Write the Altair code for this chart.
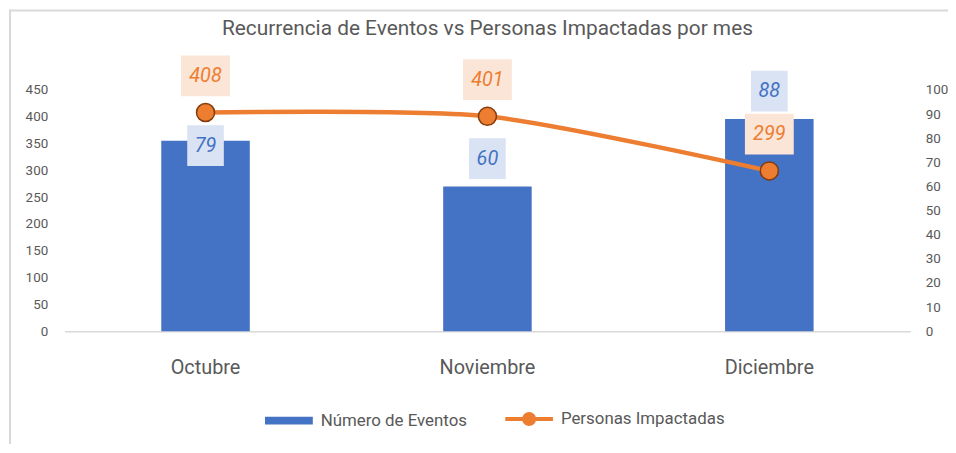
import altair as alt
import pandas as pd

# ---- data ----
meses = ["Octubre", "Noviembre", "Diciembre"]
eventos = [79, 60, 88]
personas = [408, 401, 299]
series = ["Número de Eventos", "Personas Impactadas"]
ticks_left = [0, 50, 100, 150, 200, 250, 300, 350, 400, 450]
ticks_right = [0, 10, 20, 30, 40, 50, 60, 70, 80, 90, 100]
titulo = "Recurrencia de Eventos vs Personas Impactadas por mes"

df = pd.DataFrame({"mes": meses, "eventos": eventos, "personas": personas})
leg_df = pd.DataFrame({"serie": series})
frame_df = pd.DataFrame({"k": [0]})

FONT = "Roboto, DejaVu Sans Condensed, sans-serif"
BLUE = "#4472C4"
BLUE_BG = "#DAE3F3"
ORANGE = "#ED7D31"
ORANGE_BG = "#FBE5D6"
DARK = "#843C0C"
GRAY = "#595959"
LIGHT = "#D9D9D9"

x = alt.X(
    "mes:N", sort=meses, title=None,
    scale=alt.Scale(paddingInner=0.686, paddingOuter=0.343),
    axis=alt.Axis(labelFontSize=20, labelColor=GRAY, labelFont=FONT, labelPadding=27,
                  ticks=False, domainColor=LIGHT, domainWidth=1.5, labelAngle=0),
)

yR = alt.Y(
    "eventos:Q", title=None, scale=alt.Scale(domain=[0, 100], nice=False),
    axis=alt.Axis(orient="right", values=ticks_right, domain=False, ticks=False, grid=False,
                  labelPadding=15, labelFontSize=13.5, labelColor=GRAY, labelFont=FONT),
)
yL = alt.Y(
    "personas:Q", title=None, scale=alt.Scale(domain=[0, 450], nice=False),
    axis=alt.Axis(orient="left", values=ticks_left, domain=False, ticks=False, grid=False,
                  labelPadding=17, labelFontSize=13.5, labelColor=GRAY, labelFont=FONT),
)

base = alt.Chart(df)

box_short = "M-0.9,-1H0.9V1H-0.9Z"
box_long = "M-1.2,-1H1.2V1H-1.2Z"

# ---- bars (right axis) ----
bars = base.mark_bar(color=BLUE).encode(x=x, y=yR)


def blue_labels(expr, off):
    src = base.transform_filter(expr)
    bg = src.mark_point(shape=box_short, size=1681, filled=True, color=BLUE_BG,
                        opacity=1, strokeWidth=0, yOffset=off).encode(x=x, y=yR)
    tx = src.mark_text(font=FONT, fontSize=20, fontStyle="italic", color=BLUE,
                       baseline="middle", yOffset=off).encode(x=x, y=yR, text="eventos:Q")
    return [bg, tx]


bar_group = alt.layer(
    bars,
    *blue_labels("datum.mes == 'Octubre'", 5),
    *blue_labels("datum.mes != 'Octubre'", -28),
)

# ---- line (left axis) ----
line = base.mark_line(color=ORANGE, strokeWidth=4.5, interpolate="cardinal", tension=0.25).encode(x=x, y=yL)
pts = base.mark_circle(color=ORANGE, stroke=DARK, strokeWidth=1.5, size=330, opacity=1).encode(x=x, y=yL)
obg = base.mark_point(shape=box_long, size=1681, filled=True, color=ORANGE_BG,
                      opacity=1, strokeWidth=0, yOffset=-37).encode(x=x, y=yL)
otx = base.mark_text(font=FONT, fontSize=20, fontStyle="italic", color=ORANGE,
                     baseline="middle", yOffset=-37).encode(x=x, y=yL, text="personas:Q")
line_group = alt.layer(line, pts, obg, otx)

# ---- legend (invisible carrier layer) ----
rect_path = "M-0.92,-0.08H0.92V0.08H-0.92Z"
line_path = "M-1,0H1M-0.21,0A0.21,0.21,0,1,1,0.21,0A0.21,0.21,0,1,1,-0.21,0Z"
lg = alt.Legend(title=None, orient="none", legendX=200, legendY=305, direction="horizontal",
                columns=2, symbolSize=2304, symbolStrokeWidth=4, symbolOpacity=1,
                labelFontSize=17, labelColor=GRAY, labelFont=FONT, labelOffset=6,
                labelLimit=400, columnPadding=30, padding=0)
legend_layer = alt.Chart(leg_df).mark_point(filled=True, opacity=0, strokeWidth=4).encode(
    fill=alt.Fill("serie:N", scale=alt.Scale(domain=series, range=[BLUE, ORANGE]), legend=lg),
    stroke=alt.Stroke("serie:N", scale=alt.Scale(domain=series, range=[BLUE, ORANGE]), legend=lg),
    shape=alt.Shape("serie:N", scale=alt.Scale(domain=series, range=[rect_path, line_path]), legend=lg),
)

# ---- chart frame (decoration) ----
frame_left = alt.Chart(frame_df).mark_rule(color=LIGHT, strokeWidth=2).encode(
    x=alt.value(-55), y=alt.value(-81), y2=alt.value(360))
frame_top = alt.Chart(frame_df).mark_rule(color=LIGHT, strokeWidth=2).encode(
    x=alt.value(-56), x2=alt.value(900), y=alt.value(-80))

chart = alt.layer(frame_left, frame_top, bar_group, line_group, legend_layer).resolve_scale(
    y="independent"
).properties(
    width=852, height=243,
    autosize=alt.AutoSizeParams(type="none"),
    padding={"left": 57, "top": 81, "right": 38, "bottom": 112},
    title=alt.TitleParams(titulo, fontSize=21, color=GRAY, font=FONT, fontWeight="normal",
                          anchor="middle", offset=0, baseline="middle", dy=42),
).configure_view(stroke=None)

chart.save("out.html", embed_options={"renderer": "svg", "actions": False})
